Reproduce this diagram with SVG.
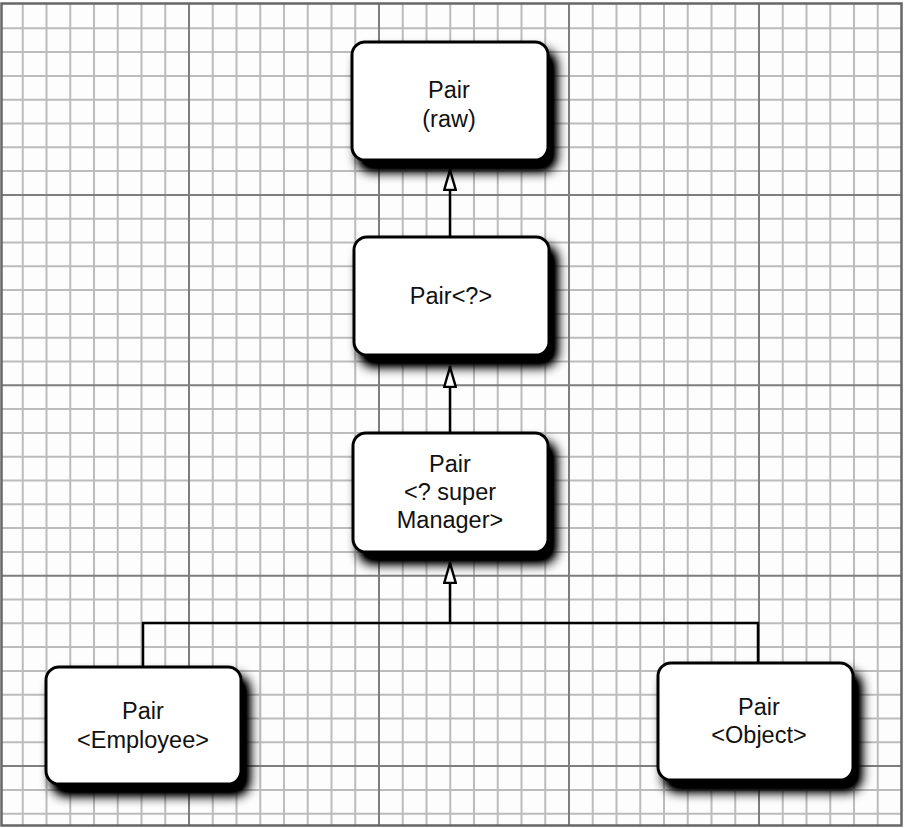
<svg xmlns="http://www.w3.org/2000/svg" width="904" height="828" viewBox="0 0 904 828">
<style>
.minor{stroke:#bcbcbc;stroke-width:2;fill:none}
.major{stroke:#7e7e7e;stroke-width:2;fill:none}
.box{fill:#fff;stroke:#000;stroke-width:3}
.lbl{font-family:"Liberation Sans",Arial,sans-serif;font-size:23.5px;fill:#111;text-anchor:middle}
.conn{stroke:#000;stroke-width:2.5;fill:none}
</style>
<defs>
<filter id="sh" x="-20%" y="-20%" width="150%" height="160%">
<feGaussianBlur in="SourceAlpha" stdDeviation="6"/>
<feOffset dx="7" dy="10" result="o"/>
<feComponentTransfer><feFuncA type="linear" slope="1.4"/></feComponentTransfer>
<feMerge><feMergeNode/><feMergeNode in="SourceGraphic"/></feMerge>
</filter>
<marker id="tri" viewBox="0 0 22 14" refX="22" refY="7" markerUnits="userSpaceOnUse" markerWidth="22" markerHeight="14" orient="auto">
<path d="M1,1.2 L21,7 L1,12.8 Z" fill="#fff" stroke="#000" stroke-width="2.4" stroke-linejoin="miter"/>
</marker>
</defs>
<rect x="0" y="0" width="904" height="828" fill="#fdfdfd"/>
<g id="grid">
<path class="minor" d="M22.75 3V826M46.5 3V826M70.25 3V826M94 3V826M117.75 3V826M141.5 3V826M165.25 3V826M212.75 3V826M236.5 3V826M260.25 3V826M284 3V826M307.75 3V826M331.5 3V826M355.25 3V826M402.75 3V826M426.5 3V826M450.25 3V826M474 3V826M497.75 3V826M521.5 3V826M545.25 3V826M592.75 3V826M616.5 3V826M640.25 3V826M664 3V826M687.75 3V826M711.5 3V826M735.25 3V826M782.75 3V826M806.5 3V826M830.25 3V826M854 3V826M877.75 3V826"/>
<path class="minor" d="M1 28.3H902M1 52.1H902M1 75.9H902M1 99.7H902M1 123.5H902M1 147.3H902M1 171.1H902M1 218.7H902M1 242.5H902M1 266.3H902M1 290.1H902M1 313.9H902M1 337.7H902M1 361.5H902M1 409.1H902M1 432.9H902M1 456.7H902M1 480.5H902M1 504.3H902M1 528.1H902M1 551.9H902M1 599.5H902M1 623.3H902M1 647.1H902M1 670.9H902M1 694.7H902M1 718.5H902M1 742.3H902M1 789.9H902M1 813.7H902"/>
<path class="major" d="M189 3V826M379 3V826M569 3V826M759 3V826M1 194.9H902M1 385.3H902M1 575.7H902M1 766.1H902"/>
<rect x="1.5" y="3.5" width="900" height="822" fill="none" stroke="#666" stroke-width="2.5"/>
</g>
<g id="connectors">
<path class="conn" d="M450 237V169" marker-end="url(#tri)"/>
<path class="conn" d="M450 433V366" marker-end="url(#tri)"/>
<path class="conn" d="M450 623V562" marker-end="url(#tri)"/>
<path class="conn" d="M143 667V623H758V663"/>
</g>
<g id="node-raw">
<rect class="box" x="352" y="42" width="196" height="118" rx="13" filter="url(#sh)"/>
<text class="lbl" x="449" y="98">Pair</text>
<text class="lbl" x="449" y="127">(raw)</text>
</g>
<g id="node-wildcard">
<rect class="box" x="354" y="237" width="195" height="118" rx="13" filter="url(#sh)"/>
<text class="lbl" x="451" y="304">Pair&lt;?&gt;</text>
</g>
<g id="node-super">
<rect class="box" x="353" y="433" width="195" height="119" rx="13" filter="url(#sh)"/>
<text class="lbl" x="450" y="472">Pair</text>
<text class="lbl" x="450" y="500">&lt;? super</text>
<text class="lbl" x="450" y="528">Manager&gt;</text>
</g>
<g id="node-employee">
<rect class="box" x="46" y="667" width="195" height="117" rx="13" filter="url(#sh)"/>
<text class="lbl" x="143" y="719">Pair</text>
<text class="lbl" x="143" y="748">&lt;Employee&gt;</text>
</g>
<g id="node-object">
<rect class="box" x="658" y="663" width="195" height="117" rx="13" filter="url(#sh)"/>
<text class="lbl" x="759" y="715">Pair</text>
<text class="lbl" x="759" y="743">&lt;Object&gt;</text>
</g>
</svg>
